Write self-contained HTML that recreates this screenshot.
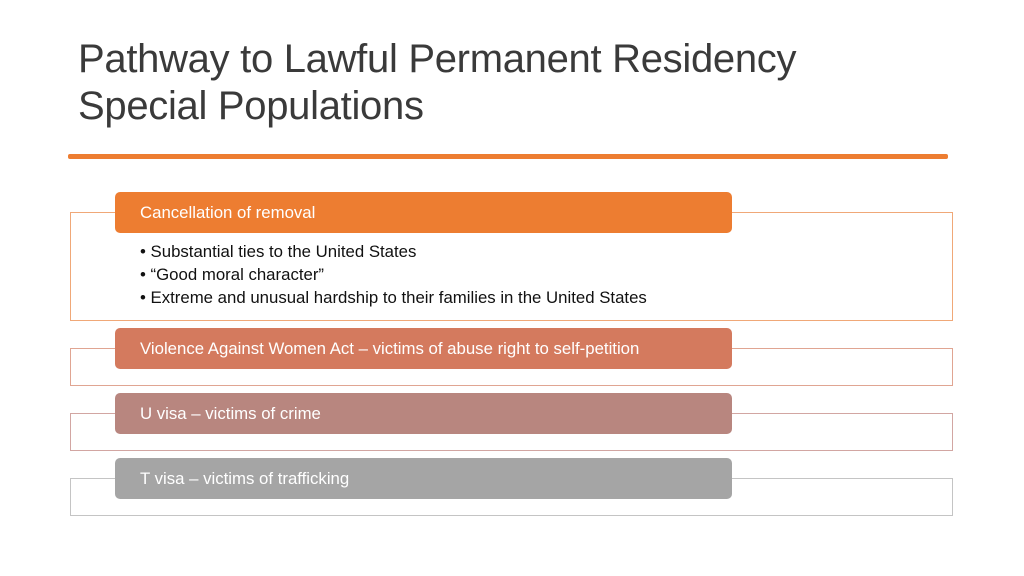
<!DOCTYPE html>
<html><head><meta charset="utf-8"><style>
body{margin:0;width:1024px;height:576px;background:#fff;position:relative;overflow:hidden;font-family:"Liberation Sans",sans-serif}
.t{position:absolute;left:78px;color:#3a3a3a;font-size:40px;line-height:47px;letter-spacing:-0.3px}
.rule{position:absolute;left:68px;top:154px;width:880px;height:5px;background:#ED7D31;border-radius:2px}
.box{position:absolute;left:70px;width:883px;border:1px solid;box-sizing:border-box;background:#fff}
.hdr{position:absolute;left:115px;width:617px;height:41px;border-radius:5px;color:#fff;font-size:16.8px;line-height:41px;padding-left:25px;box-sizing:border-box;white-space:nowrap}
.bul{position:absolute;left:140px;top:240px;font-size:16.8px;line-height:23px;color:#111;white-space:nowrap}
</style></head><body>
<div class="t" style="top:36px">Pathway to Lawful Permanent Residency<br>Special Populations</div>
<div class="rule"></div>

<div class="box" style="top:212px;height:109px;border-color:#F0A878"></div>
<div class="hdr" style="top:192px;background:#ED7D31">Cancellation of removal</div>
<div class="bul">• Substantial ties to the United States<br>• “Good moral character”<br>• Extreme and unusual hardship to their families in the United States</div>

<div class="box" style="top:348px;height:38px;border-color:#E0A592"></div>
<div class="hdr" style="top:328px;background:#D47A5E">Violence Against Women Act – victims of abuse right to self-petition</div>

<div class="box" style="top:413px;height:38px;border-color:#D2A6A2"></div>
<div class="hdr" style="top:393px;background:#B8867F">U visa – victims of crime</div>

<div class="box" style="top:478px;height:38px;border-color:#C4C4C4"></div>
<div class="hdr" style="top:458px;background:#A5A5A5">T visa – victims of trafficking</div>
</body></html>
